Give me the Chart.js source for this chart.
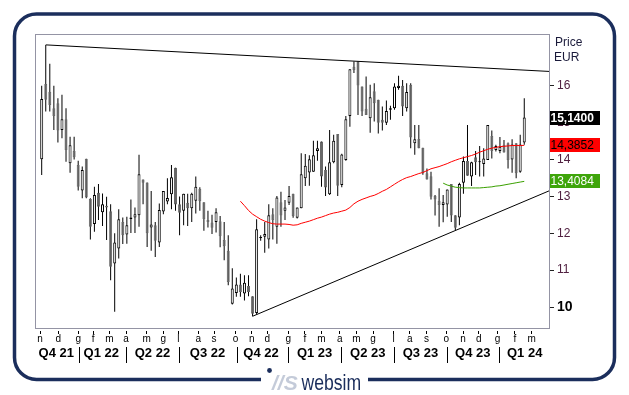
<!DOCTYPE html>
<html><head><meta charset="utf-8">
<script src="https://cdn.jsdelivr.net/npm/chart.js@4.4.1/dist/chart.umd.min.js"></script>
<style>html,body{margin:0;padding:0;background:#fff}canvas{display:block}</style>
</head><body>
<canvas id="c" width="629" height="395"></canvas>
<script>
// ---- weekly candles (index 0 = first week of Nov 2021) ----
const open  = [14.01,16.05,15.84,15.39,15.53,14.80,15.09,13.90,14.23,13.85,13.16,14.02,12.93,12.25,13.10,12.57,12.75,12.60,11.18,11.59,
               12.31,11.97,12.39,12.43,12.49,13.46,13.38,12.16,12.22,11.75,12.59,12.86,13.06,13.78,12.79,12.61,12.83,12.68,12.88,13.20,
               12.84,12.36,12.29,12.31,12.33,11.82,11.53,10.09,10.38,10.61,10.37,10.57,10.29,9.84,11.87,11.91,11.83,12.52,12.18,12.84,
               12.61,12.83,13.07,12.42,12.68,13.49,13.65,13.67,14.23,14.49,13.72,13.06,13.93,14.69,13.31,13.99,15.18,16.52,16.66,15.98,
               15.38,15.12,15.85,15.62,15.08,15.00,15.35,15.39,15.94,16.00,15.39,16.03,14.44,14.56,14.32,13.63,13.55,13.01,12.88,12.77,
               12.78,13.34,12.49,12.43,13.37,13.96,13.54,14.06,13.93,13.88,13.99,14.64,14.26,14.23,14.40,14.44,14.00,14.44,13.67,14.46];
const high  = [16.00,17.11,16.60,16.00,15.66,15.76,15.39,14.62,14.62,13.97,13.81,14.02,12.95,13.26,13.34,13.08,12.99,12.79,12.00,12.65,
               12.43,12.45,12.92,12.70,14.13,13.46,13.38,13.15,12.31,12.81,13.15,13.49,13.85,13.78,13.00,13.07,13.07,13.10,13.54,13.25,
               12.84,12.61,12.50,12.68,12.47,12.31,11.95,11.05,10.80,10.90,10.86,10.86,10.29,12.38,11.95,12.31,12.79,12.68,13.01,13.13,
               12.90,13.28,13.07,12.70,14.17,14.15,14.12,14.51,14.51,14.49,13.81,14.80,14.67,14.69,14.16,15.18,16.45,16.66,16.66,15.98,
               16.25,16.03,16.07,15.62,15.44,15.60,15.46,16.07,16.27,16.16,16.07,16.07,14.94,14.94,14.32,13.76,13.67,13.04,13.22,13.04,
               13.19,13.34,12.49,13.37,14.08,14.94,13.94,14.23,14.37,14.31,14.94,14.79,14.40,14.61,14.53,14.46,14.55,14.44,14.67,15.66];
const low   = [13.58,15.30,15.30,14.80,14.46,14.58,13.94,13.64,14.00,13.16,12.95,12.95,11.83,12.04,12.36,12.20,11.82,10.73,9.87,11.32,
               11.71,11.72,12.01,12.01,12.18,12.79,11.63,11.53,11.36,11.63,12.52,12.79,12.65,12.61,11.95,12.22,12.20,12.31,12.54,12.61,
               12.07,12.16,11.98,12.02,11.62,11.27,10.59,10.07,10.28,10.28,10.18,10.29,9.75,9.80,11.80,11.47,11.59,11.83,11.72,12.18,
               12.36,12.77,12.42,12.40,12.68,13.28,13.29,13.67,13.97,13.26,13.01,13.04,13.90,13.01,13.25,13.97,14.89,16.35,15.21,15.18,
               15.21,14.73,15.03,14.71,14.79,14.94,15.08,15.35,15.89,15.18,15.30,14.31,14.13,14.31,13.59,13.46,12.92,12.48,12.18,12.30,
               12.45,12.31,12.09,12.22,13.07,13.56,13.28,13.58,13.54,13.54,13.99,14.03,14.22,14.17,14.19,13.76,13.64,13.49,13.64,14.40];
const close = [15.64,15.62,15.48,15.18,14.79,15.09,14.26,14.39,14.06,13.26,13.72,12.97,12.18,13.04,12.72,12.79,12.70,11.09,11.75,12.38,
               11.95,12.22,12.43,12.52,13.60,13.37,12.00,12.24,11.80,12.63,13.15,12.96,13.52,12.78,12.56,13.07,12.68,13.07,13.26,12.87,
               12.39,12.31,12.15,12.57,11.92,11.65,10.68,10.50,10.61,10.41,10.66,10.41,9.82,12.11,11.88,11.98,12.49,12.36,12.97,12.48,
               12.70,13.01,12.47,12.70,13.60,13.83,14.01,14.12,14.31,13.54,13.24,13.93,14.51,13.29,14.14,15.09,16.45,16.43,16.01,15.30,
               15.21,15.69,15.53,15.00,15.00,15.32,15.39,15.98,16.00,15.44,15.83,14.60,14.55,14.31,13.63,13.46,12.99,12.92,12.77,12.84,
               13.19,12.48,12.15,13.34,13.96,13.56,13.93,13.93,13.94,14.03,14.94,14.23,14.37,14.35,14.19,13.99,14.41,13.63,14.41,15.14];

// ---- moving averages (first week index + weekly values) ----
const redMAStart = 49;
const redMA = [12.87,12.75,12.62,12.52,12.45,12.38,12.33,12.29,12.26,12.25,12.25,12.25,12.24,12.22,12.23,12.27,12.30,12.33,12.37,12.41,
               12.44,12.48,12.52,12.55,12.57,12.60,12.63,12.70,12.80,12.87,12.92,12.96,13.00,13.03,13.08,13.14,13.19,13.26,13.33,13.40,
               13.46,13.51,13.54,13.58,13.62,13.65,13.70,13.75,13.78,13.81,13.85,13.89,13.94,13.98,14.02,14.05,14.08,14.11,14.15,14.20,
               14.24,14.28,14.31,14.33,14.35,14.36,14.37,14.38,14.38,14.38,14.3852];
const greenMAStart = 99;
const greenMA = [13.36,13.31,13.28,13.25,13.24,13.23,13.23,13.23,13.23,13.23,13.24,13.25,13.26,13.28,13.29,13.31,13.33,13.35,13.37,13.39,13.4084];

// ---- trend lines (week index, price) ----
const resistX = [1, 125.1];
const resistY = [17.11, 16.39];
const supportX = [52, 125.1];
const supportY = [9.75, 13.15];

// ---- axis ticks ----
const monthTickPos = [-0.4,4.1,9.0,12.7,16.7,20.8,25.9,30.0,33.7,38.6,42.5,47.8,51.8,55.6,60.8,64.9,69.0,73.5,77.6,81.7,86.8,90.8,94.9,99.8,103.9,107.8,112.4,116.7,120.8];
const monthLabels  = ['n','d','g','f','m','a','m','g','l','a','s','o','n','d','g','f','m','a','m','g','l','a','s','o','n','d','g','f','m'];
const quarterLabels = ['Q4 21','Q1 22','Q2 22','Q3 22','Q4 22','Q1 23','Q2 23','Q3 23','Q4 23','Q1 24'];
const quarterLabelPos = [3.6,14.7,27.3,40.9,54.1,67.3,80.4,93.4,106.3,119.1];
const quarterBreakPos = [9.3,20.8,34.1,48.2,60.8,73.9,86.9,100.1,113.0];
const priceTicks = [10,11,12,13,14,15,16];

// ---- build chart structures ----
const FONT = "'Liberation Sans', Arial, sans-serif";
const NAVY = '#1b2e5c';
const qTicks = quarterLabelPos.map((v,k)=>({value:v,label:quarterLabels[k]}))
  .concat(quarterBreakPos.map(v=>({value:v,label:''})));
const wickData = open.map((o,i)=>({x:i, y:[low[i], high[i]]}));
const bodyData = open.map((o,i)=>({x:i, y:[Math.min(o,close[i]), Math.max(o,close[i])]}));
const redData = redMA.map((v,k)=>({x:redMAStart+k, y:v}));
const greenData = greenMA.map((v,k)=>({x:greenMAStart+k, y:v}));
const resistData = resistX.map((x,k)=>({x, y:resistY[k]}));
const supportData = supportX.map((x,k)=>({x, y:supportY[k]}));
const isUp = i => close[i] >= open[i];

const decor = {
  id:'decor',
  beforeDraw(chart){
    const c = chart.ctx;
    c.save();
    c.fillStyle='#fff'; c.fillRect(0,0,chart.width,chart.height);
    c.strokeStyle=NAVY; c.lineWidth=3.5;
    c.beginPath(); c.roundRect(14.5,14,600,365.5,22); c.stroke();
    c.fillStyle='#fff'; c.fillRect(261,372,107,12);
    c.fillStyle=NAVY; c.beginPath(); c.arc(269.5,370.5,2.4,0,Math.PI*2); c.fill();
    c.font='italic bold 21px '+FONT; c.fillStyle='#c4cbd9'; c.textBaseline='alphabetic';
    c.fillText('//S',272,390);
    c.translate(301.5,390); c.scale(0.8,1);
    c.font='22px '+FONT; c.fillStyle=NAVY; c.fillText('websim',0,0);
    c.restore();
  },
  afterDatasetsDraw(chart){
    const c = chart.ctx, a = chart.chartArea;
    c.save(); c.strokeStyle='#9494a4'; c.lineWidth=1;
    c.strokeRect(Math.round(a.left)+0.5, Math.round(a.top)+0.5, Math.round(a.right-a.left), Math.round(a.bottom-a.top));
    c.restore();
  },
  afterDraw(chart){
    const c = chart.ctx, ys = chart.scales.y;
    c.save();
    c.font='12px '+FONT; c.fillStyle='#1a1a3a'; c.textBaseline='alphabetic';
    c.fillText('Price',555,46); c.fillText('EUR',554,61);
    const boxes = [
      {v:close[close.length-1], bg:'#000', fg:'#fff', bold:true},
      {v:redMA[redMA.length-1], bg:'#ff0000', fg:'#000'},
      {v:greenMA[greenMA.length-1], bg:'#3ea50a', fg:'#fff'}];
    for (const b of boxes){
      const py = ys.getPixelForValue(b.v);
      c.fillStyle=b.bg; c.fillRect(550, Math.round(py-7), 50, 14);
      c.fillStyle=b.fg; c.font=(b.bold?'bold ':'')+'12px '+FONT; c.textBaseline='middle';
      c.fillText(b.v.toFixed(4).replace('.',','), 550.5, Math.round(py)+0.5);
    }
    c.restore();
  }
};

new Chart(document.getElementById('c'), {
  type:'bar',
  data:{datasets:[
    {type:'line', data:resistData, borderColor:'#000', borderWidth:1, pointRadius:0, order:-3},
    {type:'line', data:supportData, borderColor:'#000', borderWidth:1, pointRadius:0, order:-3},
    {type:'line', data:redData, borderColor:'#ff0000', borderWidth:1, pointRadius:0, order:-2},
    {type:'line', data:greenData, borderColor:'#3aa000', borderWidth:1, pointRadius:0, order:-2},
    {data:bodyData, grouped:false, barThickness:3, borderWidth:1, borderSkipped:false, minBarLength:1, inflateAmount:0,
     backgroundColor:ctx=>isUp(ctx.dataIndex)?'#ffffff':'#686868',
     borderColor:ctx=>isUp(ctx.dataIndex)?'#000000':'#686868', order:0},
    {data:wickData, grouped:false, barThickness:1, borderWidth:0, inflateAmount:0, backgroundColor:'#000', order:1}
  ]},
  options:{
    responsive:false, animation:false, events:[],
    layout:{padding:{left:35, top:34, right:0, bottom:28}},
    plugins:{legend:{display:false}, tooltip:{enabled:false}},
    scales:{
      x:{type:'linear', position:'bottom', weight:0, min:-1.65, max:125.1, offset:false,
        grid:{drawOnChartArea:false, offset:false, tickLength:6, tickColor:'#000', tickBorderDash:[0,3,3,20]},
        border:{display:false},
        afterBuildTicks:s=>{s.ticks = monthTickPos.map(v=>({value:v}));},
        afterFit:s=>{s.height=17;},
        ticks:{autoSkip:false, maxRotation:0, minRotation:0, padding:-1, color:'#000', font:{size:10, family:FONT},
          callback:(v,i)=>monthLabels[i]}
      },
      xq:{type:'linear', position:'bottom', weight:1, min:-1.65, max:125.1, offset:false,
        grid:{drawOnChartArea:false, offset:false, tickLength:18, tickBorderDash:[0,2,16,20],
          tickColor:ctx=>(qTicks[ctx.index] && qTicks[ctx.index].label==='')?'#000':'rgba(0,0,0,0)'},
        border:{display:false},
        afterBuildTicks:s=>{s.ticks = qTicks.map(t=>({value:t.value}));},
        afterFit:s=>{s.height=22;},
        ticks:{autoSkip:false, maxRotation:0, minRotation:0, padding:-17, color:'#000', font:{size:13, weight:'bold', family:FONT},
          callback:(v,i)=>qTicks[i].label}
      },
      y:{type:'linear', position:'right', min:9.432, max:17.405,
        grid:{drawOnChartArea:false, tickLength:5, tickColor:'#222'},
        border:{display:false},
        afterBuildTicks:s=>{s.ticks = priceTicks.map(v=>({value:v}));},
        afterFit:s=>{s.width=80;},
        ticks:{padding:3, autoSkip:false,
          color:ctx=>ctx.tick && ctx.tick.value===10?'#000':'#502040',
          font:ctx=>ctx.tick && ctx.tick.value===10?{size:14, weight:'bold', family:FONT}:{size:12, family:FONT},
          callback:v=>String(v)}
      }
    }
  },
  plugins:[decor]
});
</script>
</body></html>
